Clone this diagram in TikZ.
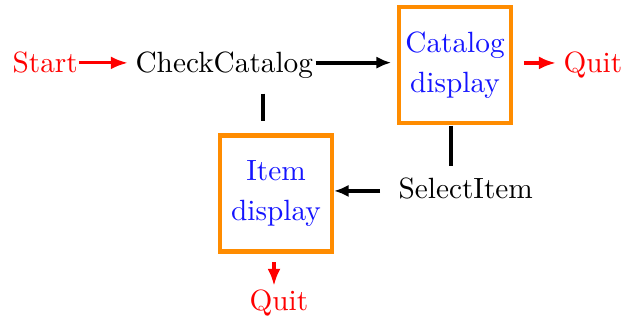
\documentclass[tikz,border=0pt]{standalone}
\usetikzlibrary{arrows.meta}
\definecolor{boxorange}{RGB}{255,140,0}
\definecolor{txtblue}{RGB}{20,20,255}
\begin{document}
\begin{tikzpicture}[x=0.3413pt,y=-0.3413pt,
  lbl/.style={inner sep=0pt, anchor=base west},
  redlbl/.style={lbl, text=red},
  statebox/.style={draw=boxorange, line width=1.4pt, text=txtblue, align=center,
    minimum width=38.2pt, minimum height=39.6pt, inner sep=0pt},
  blk/.style={line width=1.4pt, line cap=butt},
  blkarrow/.style={blk, -{Latex[length=5pt,width=4.2pt]}},
  redarrow/.style={line width=1.1pt, draw=red, -{Latex[length=5.8pt,width=4.4pt]}}
]
\useasboundingbox (0,0) rectangle (628,320);

\node[redlbl] (start) at (12,72) {Start};
\node[lbl] (check) at (135,72) {CheckCatalog};
\node[statebox] (cat) at (455,65) {Catalog\\[1.7pt]display};
\node[redlbl] (quitA) at (563,72) {Quit};
\node[statebox] (item) at (276,193.5) {Item\\[1.7pt]display};
\node[lbl] (sel) at (398,198) {SelectItem};
\node[redlbl] (quitB) at (249,310) {Quit};

\coordinate (v1) at (263,0);
\coordinate (v2) at (451,0);
\coordinate (v3) at (274,0);

\draw[redarrow, shorten <=0.3pt, shorten >=2.4pt]
  ([yshift=-0.3pt]start.east) -- ([yshift=-0.3pt]start.east -| check.west);
\draw[blkarrow, shorten <=0.7pt, shorten >=2pt]
  ([yshift=0.7pt]check.east) -- ([yshift=0.7pt]check.east -| cat.west);
\draw[redarrow, shorten <=3.7pt, shorten >=2.4pt]
  ([yshift=0.7pt]cat.east) -- ([yshift=0.7pt]cat.east -| quitA.west);
\draw[blk, shorten <=5.1pt, shorten >=4.4pt]
  (check.south -| v1) -- (item.north -| v1);
\draw[blk, shorten <=0.2pt, shorten >=3.8pt]
  (cat.south -| v2) -- (sel.north -| v2);
\draw[blkarrow, shorten <=6.1pt, shorten >=0pt]
  ([yshift=-1pt]sel.west) -- ([yshift=-1pt]sel.west -| item.east);
\draw[redarrow, shorten <=3pt, shorten >=1pt]
  (item.south -| v3) -- (quitB.north -| v3);
\end{tikzpicture}
\end{document}
